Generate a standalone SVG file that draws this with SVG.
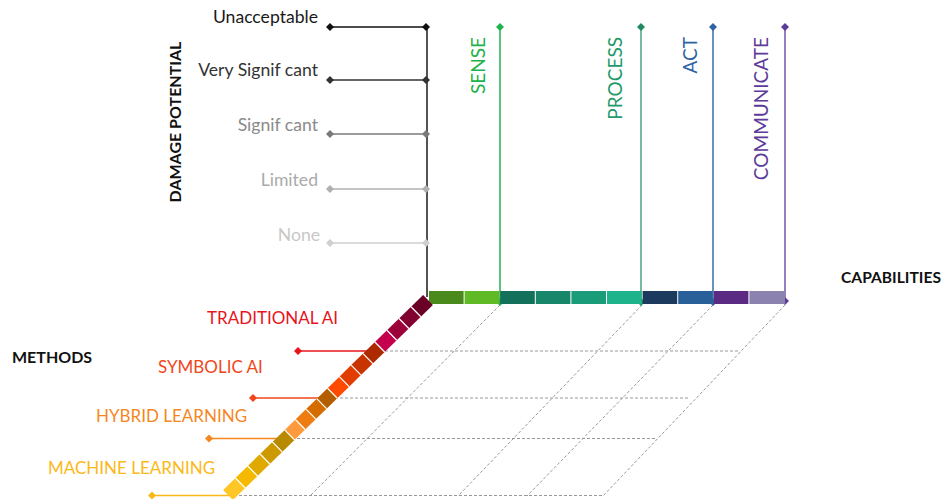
<svg xmlns="http://www.w3.org/2000/svg" xmlns:xlink="http://www.w3.org/1999/xlink" width="945" height="499" viewBox="0 0 945 499">
<style>
text{font-family:Lato,"Liberation Sans",sans-serif}
.lbl{font-size:17px}
.dmg{font-size:17.6px}
.cap{font-size:19px}
.ttl{font-size:16px;font-weight:bold;fill:#111}
.dash{stroke:#999;stroke-width:1;stroke-dasharray:3 2;fill:none}
.seg{stroke-width:14;stroke-linecap:butt;fill:none}
.sep{stroke:#fff;stroke-width:1.2}
</style>
<defs>
<path id="dm" d="M0,-4 L4,0 L0,4 L-4,0Z"/>
</defs>
<rect width="945" height="499" fill="#fff"/>

<g id="connectors">
  <line class="dash" x1="380" y1="351" x2="738" y2="351"/>
  <line class="dash" x1="330" y1="398" x2="690" y2="398"/>
  <line class="dash" x1="287" y1="438.5" x2="657" y2="438.5"/>
  <line class="dash" x1="229" y1="495.5" x2="603" y2="495.5"/>
  <line class="dash" x1="500" y1="305" x2="310" y2="496"/>
  <line class="dash" x1="642" y1="305" x2="458" y2="496"/>
  <line class="dash" x1="713" y1="305" x2="527" y2="496"/>
  <line class="dash" x1="785" y1="305" x2="603" y2="496"/>
</g>

<g id="damage-axis">
  <line x1="427" y1="27" x2="427" y2="297" stroke="#1a1a1a" stroke-width="1.5"/>
</g>
<g id="damage-unacceptable">
  <line x1="330" y1="27" x2="427" y2="27" stroke="#111" stroke-width="1.5"/>
  <use xlink:href="#dm" x="330" y="27" fill="#111"/>
  <use xlink:href="#dm" x="426" y="27" fill="#111"/>
  <text class="dmg" x="318" y="23" text-anchor="end" fill="#1a1a1a">Unacceptable</text>
</g>
<g id="damage-very-significant">
  <line x1="330" y1="80" x2="427" y2="80" stroke="#333" stroke-width="1.5"/>
  <use xlink:href="#dm" x="330" y="80" fill="#333"/>
  <use xlink:href="#dm" x="426" y="80" fill="#333"/>
  <text class="dmg" x="318" y="76" text-anchor="end" fill="#333">Very Signif cant</text>
</g>
<g id="damage-significant">
  <line x1="330" y1="134" x2="427" y2="134" stroke="#7a7a7a" stroke-width="1.5"/>
  <use xlink:href="#dm" x="330" y="134" fill="#7a7a7a"/>
  <use xlink:href="#dm" x="426" y="134" fill="#7a7a7a"/>
  <text class="dmg" x="318" y="131" text-anchor="end" fill="#8a8a8a">Signif cant</text>
</g>
<g id="damage-limited">
  <line x1="330" y1="189" x2="427" y2="189" stroke="#b0b0b0" stroke-width="1.5"/>
  <use xlink:href="#dm" x="330" y="189" fill="#b0b0b0"/>
  <use xlink:href="#dm" x="426" y="189" fill="#b0b0b0"/>
  <text class="dmg" x="318" y="186" text-anchor="end" fill="#aaa">Limited</text>
</g>
<g id="damage-none">
  <line x1="330" y1="243" x2="427" y2="243" stroke="#cfcfcf" stroke-width="1.5"/>
  <use xlink:href="#dm" x="330" y="243" fill="#cfcfcf"/>
  <use xlink:href="#dm" x="426" y="243" fill="#cfcfcf"/>
  <text class="dmg" x="320" y="241" text-anchor="end" fill="#c8c8c8">None</text>
</g>
<g id="damage-title">
  <text class="ttl" transform="translate(181,122) rotate(-90)" text-anchor="middle">DAMAGE POTENTIAL</text>
</g>

<g id="cap-sense">
  <line x1="500" y1="27" x2="500" y2="302" stroke="#22b14c" stroke-width="1.5"/>
  <use xlink:href="#dm" x="500" y="27" fill="#22b14c"/>
  <use xlink:href="#dm" x="500" y="302" fill="#22b14c"/>
  <text class="cap" transform="translate(485,37) rotate(-90)" text-anchor="end" fill="#1fb24a">SENSE</text>
</g>
<g id="cap-process">
  <line x1="641" y1="27" x2="641" y2="302" stroke="#4aa283" stroke-width="1.5"/>
  <use xlink:href="#dm" x="641" y="27" fill="#1f8a60"/>
  <use xlink:href="#dm" x="641" y="302" fill="#1f9a6a"/>
  <text class="cap" transform="translate(622,37) rotate(-90)" text-anchor="end" fill="#1f9a6a">PROCESS</text>
</g>
<g id="cap-act">
  <line x1="713" y1="27" x2="713" y2="302" stroke="#3a6ea8" stroke-width="1.5"/>
  <use xlink:href="#dm" x="713" y="27" fill="#2e64a3"/>
  <use xlink:href="#dm" x="713" y="302" fill="#2e64a3"/>
  <text class="cap" transform="translate(697,37) rotate(-90)" text-anchor="end" fill="#2e64a3">ACT</text>
</g>
<g id="cap-communicate">
  <line x1="785" y1="27" x2="785" y2="301" stroke="#7055ad" stroke-width="1.5"/>
  <use xlink:href="#dm" x="785" y="27" fill="#5c3b99"/>
  <use xlink:href="#dm" x="785" y="301" fill="#5c3b99"/>
  <text class="cap" transform="translate(768,37) rotate(-90)" text-anchor="end" fill="#5c3b99">COMMUNICATE</text>
</g>

<g id="capability-bar">
  <rect x="429" y="291" width="34.6" height="13" fill="#4a8a1c"/>
  <rect x="464.6" y="291" width="34.6" height="13" fill="#5fba26"/>
  <rect x="500.2" y="291" width="34.6" height="13" fill="#13705a"/>
  <rect x="535.8" y="291" width="34.6" height="13" fill="#17866b"/>
  <rect x="571.4" y="291" width="34.6" height="13" fill="#1a9b79"/>
  <rect x="607" y="291" width="34.6" height="13" fill="#1fb38b"/>
  <rect x="642.6" y="291" width="34.6" height="13" fill="#1c3a5e"/>
  <rect x="678.2" y="291" width="34.6" height="13" fill="#2a6099"/>
  <rect x="713.8" y="291" width="34.6" height="13" fill="#5b2a82"/>
  <rect x="749.4" y="291" width="35.6" height="13" fill="#8c82b0"/>
</g>
<g id="capabilities-title">
  <text class="ttl" x="841" y="283" style="font-size:15.6px">CAPABILITIES</text>
</g>

<g id="method-traditional">
  <line x1="298" y1="351" x2="378" y2="351" stroke="#e8141c" stroke-width="1.5"/>
  <use xlink:href="#dm" x="298" y="351" fill="#e8141c"/>
  <text class="lbl" x="207" y="324" fill="#e8141c">TRADITIONAL AI</text>
</g>
<g id="method-symbolic">
  <line x1="253" y1="398" x2="330" y2="398" stroke="#f2461a" stroke-width="1.5"/>
  <use xlink:href="#dm" x="253" y="398" fill="#f2461a"/>
  <text class="lbl" x="158" y="373" fill="#f2461a">SYMBOLIC AI</text>
</g>
<g id="method-hybrid">
  <line x1="209" y1="438.5" x2="287" y2="438.5" stroke="#f6871f" stroke-width="1.5"/>
  <use xlink:href="#dm" x="209" y="438.5" fill="#f6871f"/>
  <text class="lbl" x="96" y="422" fill="#f6871f">HYBRID LEARNING</text>
</g>
<g id="method-machine">
  <line x1="152" y1="495.5" x2="229" y2="495.5" stroke="#fbb917" stroke-width="1.5"/>
  <use xlink:href="#dm" x="152" y="495.5" fill="#fbb917"/>
  <text class="lbl" x="48" y="474" fill="#fbb917">MACHINE LEARNING</text>
</g>

<g id="methods-bar">
  <line class="seg" x1="428" y1="300" x2="415.95" y2="311.75" stroke="#6b0026"/>
  <line class="seg" x1="415.95" y1="311.75" x2="403.9" y2="323.5" stroke="#82002f"/>
  <line class="seg" x1="403.9" y1="323.5" x2="391.85" y2="335.25" stroke="#9c003a"/>
  <line class="seg" x1="391.85" y1="335.25" x2="379.8" y2="347" stroke="#c4004c"/>
  <line class="seg" x1="379.8" y1="347" x2="367.95" y2="358.55" stroke="#ad2a00"/>
  <line class="seg" x1="367.95" y1="358.55" x2="356.1" y2="370.1" stroke="#c83300"/>
  <line class="seg" x1="356.1" y1="370.1" x2="344.25" y2="381.66" stroke="#e23d00"/>
  <line class="seg" x1="344.25" y1="381.66" x2="332.4" y2="393.21" stroke="#ff4a00"/>
  <line class="seg" x1="332.4" y1="393.21" x2="321.7" y2="403.64" stroke="#b35c00"/>
  <line class="seg" x1="321.7" y1="403.64" x2="311" y2="414.08" stroke="#d56c00"/>
  <line class="seg" x1="311" y1="414.08" x2="300.3" y2="424.51" stroke="#ee7c10"/>
  <line class="seg" x1="300.3" y1="424.51" x2="289.6" y2="434.94" stroke="#ff9a3c"/>
  <line class="seg" x1="289.6" y1="434.94" x2="277.28" y2="446.95" stroke="#b88a00"/>
  <line class="seg" x1="277.28" y1="446.95" x2="264.96" y2="458.96" stroke="#cc9a00"/>
  <line class="seg" x1="264.96" y1="458.96" x2="252.64" y2="470.98" stroke="#e0a900"/>
  <line class="seg" x1="252.64" y1="470.98" x2="240.32" y2="482.99" stroke="#f5b900"/>
  <line class="seg" x1="240.32" y1="482.99" x2="228" y2="495" stroke="#ffc626"/>
  <line class="sep" x1="411.05" y1="306.75" x2="420.85" y2="316.75"/>
  <line class="sep" x1="399" y1="318.5" x2="408.8" y2="328.5"/>
  <line class="sep" x1="386.95" y1="330.25" x2="396.75" y2="340.25"/>
  <line class="sep" x1="374.9" y1="342" x2="384.7" y2="352"/>
  <line class="sep" x1="363.05" y1="353.55" x2="372.85" y2="363.55"/>
  <line class="sep" x1="351.2" y1="365.1" x2="361" y2="375.1"/>
  <line class="sep" x1="339.35" y1="376.66" x2="349.15" y2="386.66"/>
  <line class="sep" x1="327.5" y1="388.21" x2="337.3" y2="398.21"/>
  <line class="sep" x1="316.8" y1="398.64" x2="326.6" y2="408.64"/>
  <line class="sep" x1="306.1" y1="409.08" x2="315.9" y2="419.08"/>
  <line class="sep" x1="295.4" y1="419.51" x2="305.2" y2="429.51"/>
  <line class="sep" x1="284.7" y1="429.94" x2="294.5" y2="439.94"/>
  <line class="sep" x1="272.38" y1="441.95" x2="282.18" y2="451.95"/>
  <line class="sep" x1="260.06" y1="453.96" x2="269.86" y2="463.96"/>
  <line class="sep" x1="247.74" y1="465.98" x2="257.54" y2="475.98"/>
  <line class="sep" x1="235.42" y1="477.99" x2="245.22" y2="487.99"/>
</g>
<g id="methods-title">
  <text class="ttl" x="12" y="363">METHODS</text>
</g>
</svg>
